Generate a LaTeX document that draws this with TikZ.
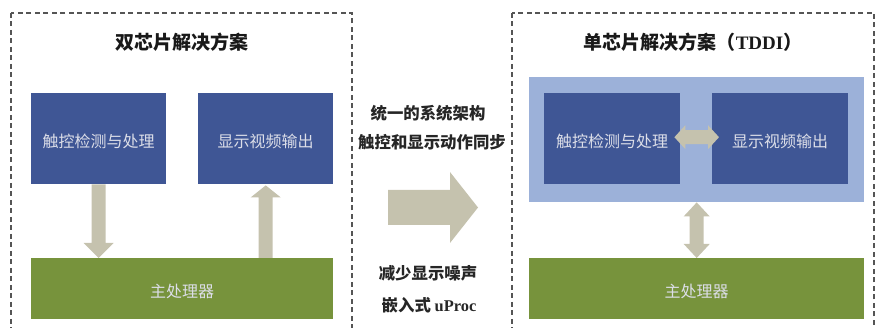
\documentclass[tikz,border=0pt]{standalone}
\usepackage{fontspec}
\setmainfont{Liberation Serif}
\newfontfamily\cjk{Noto Sans CJK SC}
\usetikzlibrary{calc}
\definecolor{dblue}{HTML}{3F5695}
\definecolor{lblue}{HTML}{9CB1D9}
\definecolor{olive}{HTML}{77933C}
\definecolor{arrc}{HTML}{C5C2AE}
\definecolor{boxtxt}{HTML}{DCDEE8}
\definecolor{dashc}{HTML}{555555}
\tikzset{
  frame/.style={draw=dashc, line width=1.3pt, dash pattern=on 5pt off 3.5pt},
  bluebox/.style={fill=dblue, draw=none, anchor=north west, inner sep=0pt, text=boxtxt, text height=19pt, text depth=1pt, font=\cjk\fontsize{16}{18}\selectfont},
  greenbox/.style={fill=olive, draw=none, anchor=north west, inner sep=0pt, text=boxtxt, text height=19pt, text depth=1pt, font=\cjk\fontsize{16}{18}\selectfont},
  title/.style={font=\cjk\bfseries\fontsize{19}{21}\selectfont, text=black!90},
  midtxt/.style={font=\cjk\bfseries\fontsize{16.4}{18}\selectfont, text=black!85},
  arr/.style={fill=arrc, draw=none}
}
\begin{document}
\begin{tikzpicture}[x=1pt,y=-1pt]
\useasboundingbox (0,0) rectangle (876,328);
\begin{scope}
\clip (0,0) rectangle (876,328);
% frames
\draw[frame] (11,13) rectangle (352,345);
\draw[frame] (512,13) rectangle (874,345);

% left side
\node[title] (tl) at (182,42) {双芯片解决方案};
\node[bluebox, minimum width=135pt, minimum height=91pt] (t1) at (31,93) {触控检测与处理};
\node[bluebox, minimum width=135pt, minimum height=91pt] (d1) at (198,93) {显示视频输出};
\node[greenbox, minimum width=302pt, minimum height=61pt] (c1) at (31,258) {主处理器};

% down arrow
\fill[arr] let \p1=(t1.south), \p2=(c1.north) in
  (\x1-7,\y1) -- (\x1+7,\y1) -- (\x1+7,\y2+15) -- (\x1+15,\y2+15) -- (\x1,\y2)
  -- (\x1-15,\y2+15) -- (\x1-7,\y2+15) -- cycle;
% up arrow
\fill[arr] let \p1=(d1.south), \p2=(d1.south |- c1.north) in
  (\x2-7,\y2) -- (\x2+7,\y2) -- (\x2+7,\y1-13) -- (\x2+15,\y1-13) -- (\x1,\y1-1)
  -- (\x2-15,\y1-13) -- (\x2-7,\y1-13) -- cycle;

% middle
\node[midtxt] (m1) at (428,113) {统一的系统架构};
\node[midtxt] (m2) at (432,142) {触控和显示动作同步};
\node[midtxt] (m3) at (428,273) {减少显示噪声};
\node[midtxt] (m4) at (429,305) {嵌入式 {\rmfamily\bfseries\fontsize{16.4}{18}\selectfont uProc}};
\coordinate (big) at (388,207.5);
\fill[arr] let \p1=(big) in
  (\x1,\y1+17.5) -- (\x1+62,\y1+17.5) -- (\x1+62,\y1+35.5) -- (\x1+90,\y1)
  -- (\x1+62,\y1-35.5) -- (\x1+62,\y1-17.5) -- (\x1,\y1-17.5) -- cycle;

% right side
\node[title] (tr) at (693,42) {单芯片解决方案（{\rmfamily\bfseries\fontsize{19}{21}\selectfont TDDI}）};
\node[fill=lblue, anchor=north west, inner sep=0pt, minimum width=335pt, minimum height=125pt] (lb) at (529,77) {};
\node[bluebox, minimum width=136pt, minimum height=91pt] (t2) at (544,93) {触控检测与处理};
\node[bluebox, minimum width=136pt, minimum height=91pt] (d2) at (712,93) {显示视频输出};
\node[greenbox, minimum width=335pt, minimum height=61pt] (c2) at (529,258) {主处理器};

% horizontal double arrow
\fill[arr] let \p1=($(t2.east)+(-6,-1.5)$), \p2=($(d2.west)+(7,-1.5)$) in
  (\x1,\y1) -- (\x1+11,\y1+12) -- (\x1+11,\y1+7) -- (\x2-11,\y1+7) -- (\x2-11,\y1+12)
  -- (\x2,\y1) -- (\x2-11,\y1-12) -- (\x2-11,\y1-7) -- (\x1+11,\y1-7) -- (\x1+11,\y1-12) -- cycle;
% vertical double arrow
\fill[arr] let \p1=(lb.south), \p2=(c2.north) in
  (\x1,\y1) -- (\x1+13,\y1-14) -- (\x1+7,\y1-14) -- (\x1+7,\y2+14) -- (\x1+13,\y2+14)
  -- (\x1,\y2) -- (\x1-13,\y2+14) -- (\x1-7,\y2+14) -- (\x1-7,\y1-14) -- (\x1-13,\y1-14) -- cycle;
\end{scope}
\end{tikzpicture}
\end{document}
